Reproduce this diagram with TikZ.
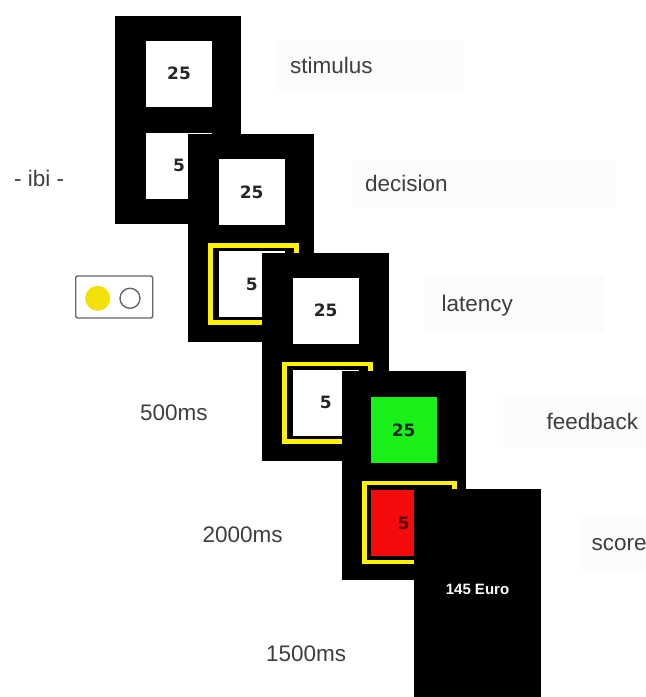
\documentclass[tikz,border=0pt]{standalone}
\usepackage{fontspec}
\setmainfont{Liberation Sans}
\newfontfamily\digitfont{DejaVu Sans}
\definecolor{signalyellow}{RGB}{255,242,0}
\definecolor{keyyellow}{RGB}{242,226,10}
\definecolor{fbgreen}{RGB}{24,240,24}
\definecolor{fbred}{RGB}{244,12,12}
\definecolor{labelgray}{RGB}{62,62,62}

\begin{document}
\begin{tikzpicture}[x=1pt,y=-1pt,
  panel/.style={fill=black},
  square/.style={fill=white, minimum size=66pt, inner sep=0pt, text=black!85,
    font=\digitfont\bfseries\fontsize{17}{20}\selectfont},
  frame/.style={draw=signalyellow, line width=4.5pt},
  tlabel/.style={anchor=west, inner sep=0pt, text=labelgray, text height=16pt,
    text depth=5pt, font=\fontsize{22.5}{26}\selectfont},
  labelbg/.style={fill=black!1}]
\useasboundingbox (0,0) rectangle (646,697);

% faint boxes behind the phase names
\fill[labelbg] (277,40) rectangle (463,90);
\fill[labelbg] (353,160) rectangle (615,208);
\fill[labelbg] (425,275) rectangle (605,333);
\fill[labelbg] (503,395) rectangle (646,448);
\fill[labelbg] (580,517) rectangle (646,570);

% stimulus
\begin{scope}[shift={(115,15.7)}]
  \fill[panel] (0,0) rectangle (126,208);
  \node[square] (stimtop) at (64,58) {25};
  \node[square] (stimbot) at (64,150) {5};
\end{scope}

% decision
\begin{scope}[shift={(187.7,134)}]
  \fill[panel] (0,0) rectangle (126,208);
  \node[square] (dectop) at (64,58) {25};
  \draw[frame] (23,111.5) rectangle (109,188.7);
  \node[square] (decbot) at (64,150) {5};
\end{scope}

% latency
\begin{scope}[shift={(261.7,252.7)}]
  \fill[panel] (0,0) rectangle (127,208);
  \node[square] (lattop) at (64,58) {25};
  \draw[frame] (23,111.5) rectangle (109,188.7);
  \node[square] (latbot) at (64,150) {5};
\end{scope}

% feedback
\begin{scope}[shift={(341.7,371)}]
  \fill[panel] (0,0) rectangle (124,209);
  \node[square, fill=fbgreen] (fbtop) at (62,59) {25};
  \draw[frame] (23,112) rectangle (113,191);
  \node[square, fill=fbred, text=red!35!black] (fbbot) at (62,152) {5};
\end{scope}

% score
\begin{scope}[shift={(414,489)}]
  \fill[panel] (0,0) rectangle (127,208);
  \node[text=white, inner sep=0pt, font=\bfseries\fontsize{15}{18}\selectfont]
    (euro) at (63.5,100) {145 Euro};
\end{scope}

% response keys
\node[draw=black!60, line width=1.4pt, rounded corners=2pt, minimum width=77pt,
  minimum height=42pt, inner sep=0pt] (keypad) at (114.2,297) {};
\node[circle, fill=keyyellow, minimum size=25pt, inner sep=0pt] (leftkey) at (97.7,298.3) {};
\node[circle, draw=black!60, line width=1.4pt, minimum size=20pt, inner sep=0pt] (rightkey) at (130,298.3) {};

% phase names and durations
\node[tlabel] (stimulus) at (290,68) {stimulus};
\node[tlabel] (decision) at (365,186) {decision};
\node[tlabel] (latency) at (441.5,306) {latency};
\node[tlabel] (feedback) at (546.5,424) {feedback};
\node[tlabel] (score) at (591.5,545) {score};
\node[tlabel] (ibi) at (14,181) {- ibi -};
\node[tlabel] (shortdur) at (140,415) {500ms};
\node[tlabel] (longdur) at (202.5,537) {2000ms};
\node[tlabel] (middur) at (266,656) {1500ms};
\end{tikzpicture}
\end{document}
